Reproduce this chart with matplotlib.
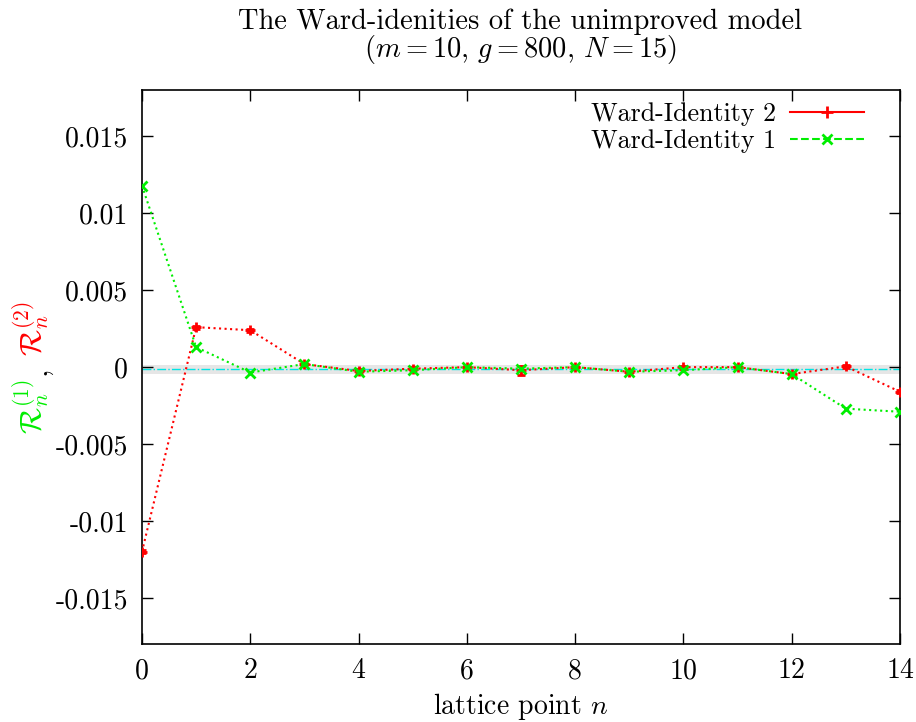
import numpy as np
import matplotlib.pyplot as plt
from matplotlib.lines import Line2D
from matplotlib.ticker import FuncFormatter

plt.rcParams['font.family'] = 'serif'
plt.rcParams['font.serif'] = ['cmr10', 'DejaVu Serif']
plt.rcParams['mathtext.fontset'] = 'cm'
plt.rcParams['axes.unicode_minus'] = False

n = np.arange(15)

# Ward-Identity 2 (red, with error bars)
wi2 = [-0.0120, 0.0026, 0.0024, 0.0002, -0.00025, -0.0001, 0.0,
       -0.0002, 0.0, -0.0003, 0.0, 0.0, -0.00045, 0.00005, -0.0016]
wi2_err = [0.0001, 0.0001, 0.0001, 0.0001, 0.0001, 0.0001, 0.0001,
           0.0003, 0.0001, 0.0001, 0.0001, 0.0001, 0.0001, 0.0001, 0.0001]

# Ward-Identity 1 (green)
wi1 = [0.0118, 0.0013, -0.00035, 0.0002, -0.0003, -0.0002, 0.0,
       -0.0001, 0.0, -0.0003, -0.0002, 0.0, -0.00045, -0.0027, -0.0029]

fit_mean = -0.00015
fit_err = 0.0003

fig = plt.figure(figsize=(9.16, 7.22), dpi=100)
ax = fig.add_axes([0.155, 0.108, 0.8275, 0.767])

ax.axhspan(fit_mean - fit_err, fit_mean + fit_err, facecolor='#e6e6e6',
           edgecolor='none', zorder=0)
ax.axhline(fit_mean, color='#00e5e5', ls='-.', lw=1, zorder=1)

ax.errorbar(n, wi2, yerr=wi2_err, color='red', ls=':', lw=1.5, marker='+',
            ms=7, mew=2, capsize=3, elinewidth=1.2, zorder=3)
ax.plot(n, wi1, color='#00ee00', ls=':', lw=1.5, marker='x', ms=7, mew=2, zorder=4)

ax.set_xlim(0, 14)
ax.set_ylim(-0.018, 0.018)
ax.set_xticks(np.arange(0, 15, 2))
ax.set_yticks([-0.015, -0.01, -0.005, 0, 0.005, 0.01, 0.015])
ax.yaxis.set_major_formatter(FuncFormatter(lambda v, p: '%g' % round(v, 4)))
ax.tick_params(direction='in', top=True, right=True, length=8, width=1,
               labelsize=20, pad=10)
for s in ax.spines.values():
    s.set_linewidth(1.2)

ax.set_xlabel('lattice point $n$', fontsize=20, labelpad=5)

fig.text(0.568, 0.97, 'The Ward-idenities of the unimproved model',
         ha='center', va='center', fontsize=20.5)
fig.text(0.568, 0.931, r'$(m = 10,\, g = 800,\, N = 15)$',
         ha='center', va='center', fontsize=20.5)

# two-coloured y label
fig.text(0.034, 0.437, r'$\mathcal{R}_n^{(1)}$', color='#00ee00', rotation=90,
         ha='center', va='center', fontsize=22)
fig.text(0.041, 0.487, ',', rotation=90, ha='center', va='center', fontsize=22)
fig.text(0.034, 0.544, r'$\mathcal{R}_n^{(2)}$', color='red', rotation=90,
         ha='center', va='center', fontsize=22)

handles = [Line2D([], [], color='red', ls='-', lw=1.5, marker='+', ms=8, mew=2),
           Line2D([], [], color='#00ee00', ls='--', lw=1.5, marker='x', ms=7, mew=2)]
ax.legend(handles, ['Ward-Identity 2', 'Ward-Identity 1'], loc='upper right',
          bbox_to_anchor=(1 - 24 / 758, 1.0), frameon=False, markerfirst=False,
          fontsize=18.7, handlelength=2.85, borderaxespad=0.0, borderpad=0.45,
          labelspacing=0.15, handletextpad=0.55)

fig.savefig('out.png', dpi=100)
